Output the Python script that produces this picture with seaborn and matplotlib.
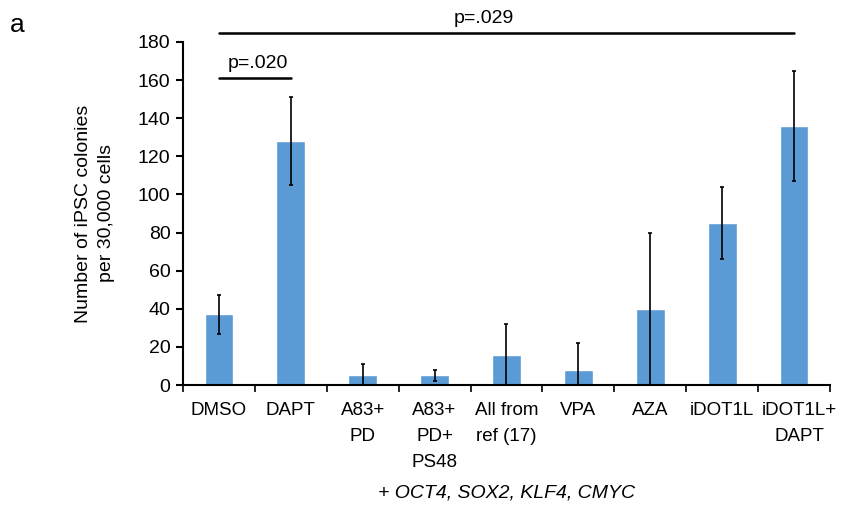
import numpy as np
import pandas as pd
import seaborn as sns
import matplotlib.pyplot as plt
from matplotlib.transforms import ScaledTranslation

# ------------------- data -------------------
labels = ["DMSO", "DAPT", "A83+\nPD", "A83+\nPD+\nPS48", "All from\nref (17)",
          "VPA", "AZA", "iDOT1L", "iDOT1L+\nDAPT"]
colonies = [37, 128, 5, 5, 16, 8, 40, 85, 136]
sd = [10, 23, 6, 3, 16, 14, 40, 19, 29]

df = pd.DataFrame({"condition": labels, "colonies": colonies})

sns.set_style("ticks")
plt.rcParams["font.family"] = ["Liberation Sans", "DejaVu Sans"]
plt.rcParams["text.color"] = "black"
plt.rcParams["axes.labelcolor"] = "black"
plt.rcParams["xtick.color"] = "black"
plt.rcParams["ytick.color"] = "black"

FS = 14

fig = plt.figure(figsize=(8.61, 5.17), dpi=100)
ax = fig.add_axes([0.2125, 0.2553, 0.7515, 0.6635])

sns.barplot(data=df, x="condition", y="colonies", color="#5b9bd5",
            saturation=1, width=0.4, errorbar=None, ax=ax)

# error bars (lower part stops at the bar base)
x = np.arange(len(labels))
lower = np.minimum(sd, colonies)
ax.errorbar(x, colonies, yerr=[lower, sd], fmt="none", ecolor="black",
            elinewidth=1.2, capsize=1.5, capthick=1.2)

ax.set_xlim(-0.5, len(labels) - 0.5)
ax.set_ylim(0, 180)
ax.set_yticks(range(0, 181, 20))
ax.tick_params(axis="y", labelsize=FS, length=5, width=1.5, direction="out", pad=4)
ax.tick_params(axis="x", which="major", labelsize=13.5, length=0, pad=12)
xlabels = ax.get_xticklabels()
for t in xlabels:
    t.set_linespacing(1.7)
# last label sits a little to the right in the original
xlabels[-1].set_transform(xlabels[-1].get_transform()
                          + ScaledTranslation(4 / 72, 0, fig.dpi_scale_trans))
ax.set_xticks(np.arange(-0.5, len(labels)), minor=True)
ax.tick_params(axis="x", which="minor", length=5, width=1.2, direction="out")
sns.despine(ax=ax)
for s in ["left", "bottom"]:
    ax.spines[s].set_linewidth(1.5)
    ax.spines[s].set_color("black")

ax.set_ylabel("Number of iPSC colonies\nper 30,000 cells", fontsize=FS,
              labelpad=16, linespacing=1.5)
ax.set_xlabel("+ OCT4, SOX2, KLF4, CMYC", fontsize=FS, style="italic", labelpad=10)

# significance brackets
ax.plot([0, 1], [161, 161], color="black", lw=1.8, clip_on=False)
ax.text(0.54, 164.5, "p=.020", ha="center", va="bottom", fontsize=FS)
ax.plot([0, 8], [184.7, 184.7], color="black", lw=1.8, clip_on=False)
ax.text(3.69, 188, "p=.029", ha="center", va="bottom", fontsize=FS)

fig.text(0.012, 0.975, "a", fontsize=19, ha="left", va="top")

fig.savefig("out.png", dpi=100)
